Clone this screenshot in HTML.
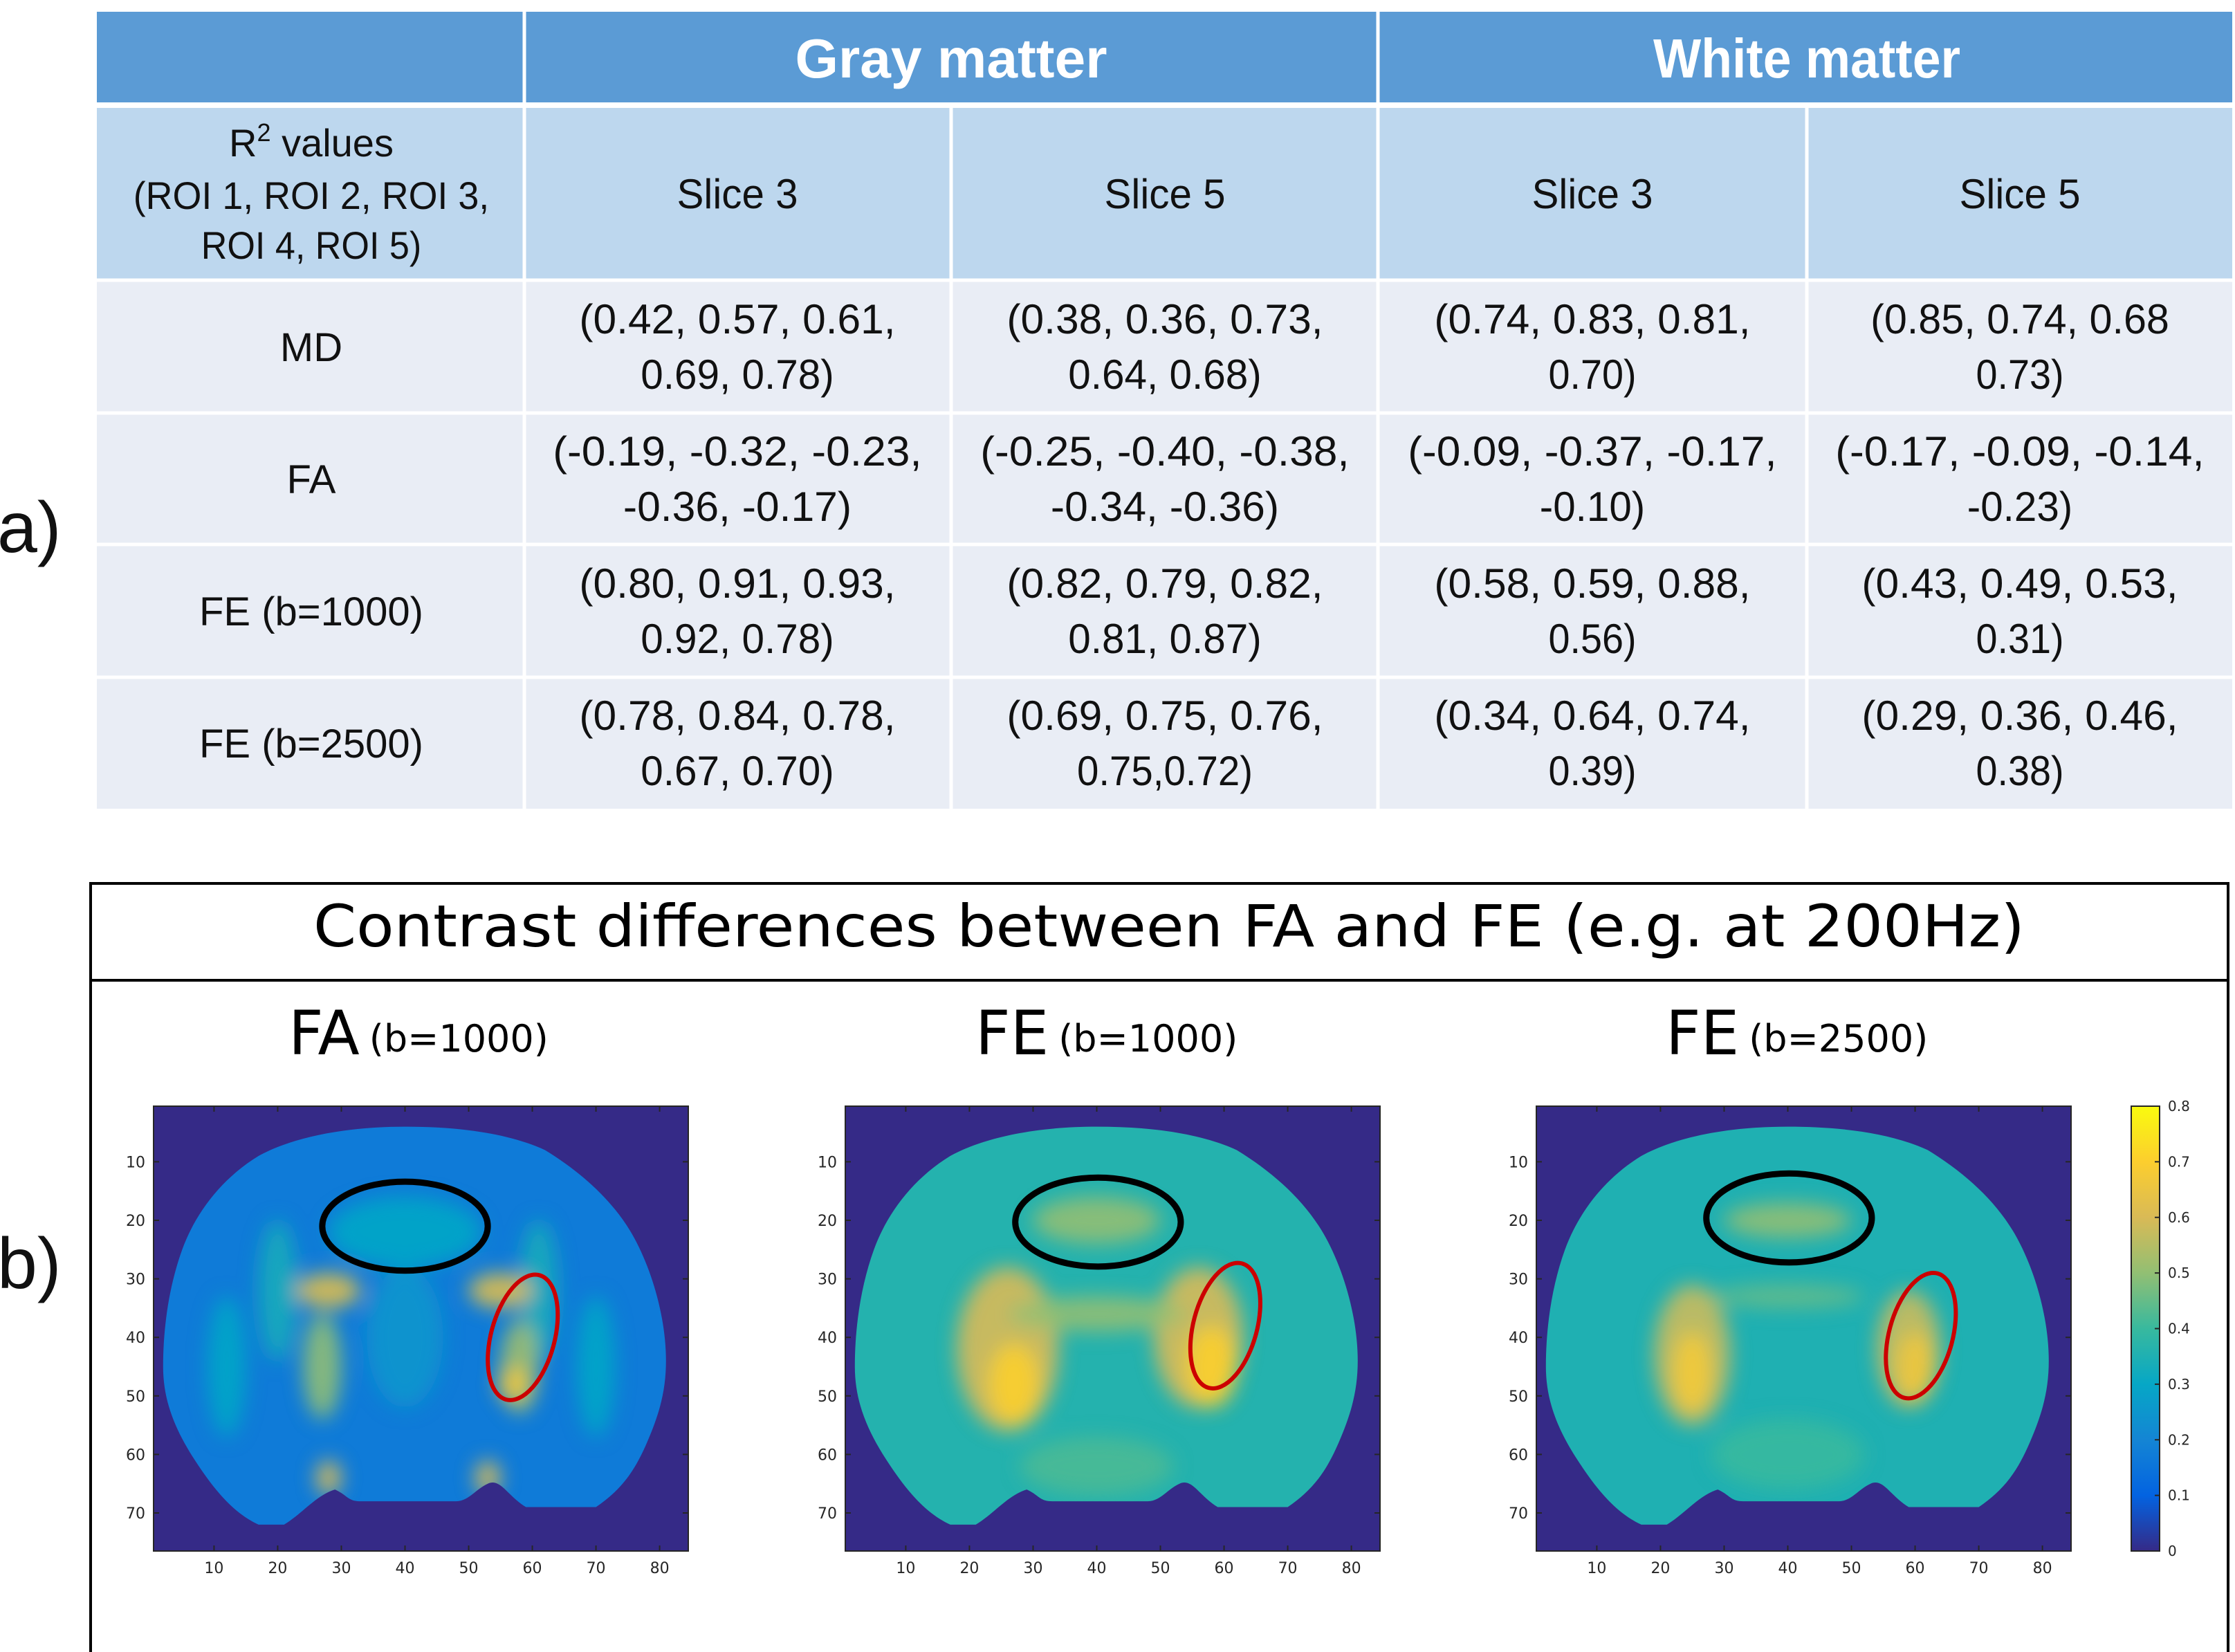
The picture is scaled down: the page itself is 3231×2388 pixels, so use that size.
<!DOCTYPE html>
<html><head><meta charset="utf-8"><style>
html,body{margin:0;padding:0;background:#fff;}
svg{display:block;}
.t{font-family:"Liberation Sans",sans-serif;fill:#111;}
.d{font-family:"DejaVu Sans","Liberation Sans",sans-serif;}
</style></head><body>
<svg id="root" width="3231" height="2388" viewBox="0 0 3231 2388" xmlns="http://www.w3.org/2000/svg">
<defs>
<filter id="blur" x="-50%" y="-50%" width="200%" height="200%"><feGaussianBlur stdDeviation="14"/></filter>
<linearGradient id="parula" x1="0" y1="1" x2="0" y2="0">
<stop offset="0" stop-color="#352a87"/><stop offset="0.125" stop-color="#0363e1"/><stop offset="0.25" stop-color="#1485d4"/><stop offset="0.375" stop-color="#06a7c6"/><stop offset="0.5" stop-color="#38b99e"/><stop offset="0.625" stop-color="#92bf73"/><stop offset="0.75" stop-color="#d9ba56"/><stop offset="0.875" stop-color="#fcce2e"/><stop offset="1" stop-color="#f9fb0e"/>
</linearGradient>
</defs>
<g id="table">
<rect x="140" y="17" width="3087" height="132" fill="#5b9bd5"/>
<rect x="140" y="155" width="3087" height="250" fill="#bdd7ee"/>
<rect x="140" y="405" width="3087" height="764" fill="#e9edf5"/>
<g stroke="#fff" stroke-width="5">
<line x1="758" y1="17" x2="758" y2="1169"/><line x1="1992" y1="17" x2="1992" y2="1169"/>
<line x1="1375" y1="155" x2="1375" y2="1169"/><line x1="2612" y1="155" x2="2612" y2="1169"/>
<line x1="140" y1="152" x2="3227" y2="152" stroke-width="8"/>
<line x1="140" y1="405" x2="3227" y2="405"/><line x1="140" y1="597" x2="3227" y2="597"/>
<line x1="140" y1="787" x2="3227" y2="787"/><line x1="140" y1="979" x2="3227" y2="979"/>
</g>
<text class="t fit" x="1375" y="112" text-anchor="middle" font-size="80" font-weight="bold" style="fill:#fff" data-k="41">Gray matter</text>
<text class="t fit" x="2612" y="112" text-anchor="middle" font-size="80" font-weight="bold" style="fill:#fff" data-k="37">White matter</text>
<text class="t" x="450" y="226" text-anchor="middle" font-size="56"><tspan>R</tspan><tspan font-size="36" dy="-22">2</tspan><tspan dy="22"> values</tspan></text>
<text class="t fit" x="450" y="302" text-anchor="middle" font-size="56" data-k="24.5">(ROI 1, ROI 2, ROI 3,</text>
<text class="t fit" x="450" y="374" text-anchor="middle" font-size="56" data-k="24.5">ROI 4, ROI 5)</text>
<text class="t fit" x="1066" y="301" text-anchor="middle" font-size="60" data-k="25">Slice 3</text>
<text class="t fit" x="1684" y="301" text-anchor="middle" font-size="60" data-k="25">Slice 5</text>
<text class="t fit" x="2302" y="301" text-anchor="middle" font-size="60" data-k="25">Slice 3</text>
<text class="t fit" x="2920" y="301" text-anchor="middle" font-size="60" data-k="25">Slice 5</text>
<g id="rows"></g>
</g>
<text class="t" x="-4" y="798" font-size="104">a)</text>
<text class="t" x="-4" y="1862" font-size="104">b)</text>
<rect x="131" y="1277" width="3090" height="1115" fill="none" stroke="#000" stroke-width="4"/>
<line x1="131" y1="1417" x2="3221" y2="1417" stroke="#000" stroke-width="4"/>
<text class="d" x="1690" y="1368" text-anchor="middle" font-size="84" textLength="2474" lengthAdjust="spacingAndGlyphs">Contrast differences between FA and FE (e.g. at 200Hz)</text>
<g id="maps"></g>
<g id="cbar"></g>
</svg>
<script>
document.querySelectorAll('.fit').forEach(function(t){var k=+t.getAttribute('data-k');t.setAttribute('textLength',t.textContent.length*k);t.setAttribute('lengthAdjust','spacingAndGlyphs');});
var NS='http://www.w3.org/2000/svg';
function mk(tag,attrs,parent){var e=document.createElementNS(NS,tag);for(var k in attrs)e.setAttribute(k,attrs[k]);parent.appendChild(e);return e;}
var rowLabels=['MD','FA','FE (b=1000)','FE (b=2500)'];
var cellLine1=[['(0.42, 0.57, 0.61,','(0.38, 0.36, 0.73,','(0.74, 0.83, 0.81,','(0.85, 0.74, 0.68'],
['(-0.19, -0.32, -0.23,','(-0.25, -0.40, -0.38,','(-0.09, -0.37, -0.17,','(-0.17, -0.09, -0.14,'],
['(0.80, 0.91, 0.93,','(0.82, 0.79, 0.82,','(0.58, 0.59, 0.88,','(0.43, 0.49, 0.53,'],
['(0.78, 0.84, 0.78,','(0.69, 0.75, 0.76,','(0.34, 0.64, 0.74,','(0.29, 0.36, 0.46,']];
var cellLine2=[['0.69, 0.78)','0.64, 0.68)','0.70)','0.73)'],['-0.36, -0.17)','-0.34, -0.36)','-0.10)','-0.23)'],
['0.92, 0.78)','0.81, 0.87)','0.56)','0.31)'],['0.67, 0.70)','0.75,0.72)','0.39)','0.38)']];
var rowCenters=[501,692,883,1074], colCenters=[1066,1684,2302,2920];
var rowsG=document.getElementById('rows');
rowLabels.forEach(function(l,i){
 var t=mk('text',{class:'t',x:450,y:rowCenters[i]+21,'text-anchor':'middle','font-size':58},rowsG);t.textContent=l;
 
 
 colCenters.forEach(function(cx,j){
  [cellLine1[i][j],cellLine2[i][j]].forEach(function(s,n){
   var c=mk('text',{class:'t',x:cx,y:rowCenters[i]-19+n*80,'text-anchor':'middle','font-size':60},rowsG);c.textContent=s;
   c.setAttribute('textLength',s.length*25.4);c.setAttribute('lengthAdjust','spacingAndGlyphs');
   
   
  });
 });
});
var xTicks=[10,20,30,40,50,60,70,80], yTicks=[10,20,30,40,50,60,70];
var cbarTicks=[0,0.1,0.2,0.3,0.4,0.5,0.6,0.7,0.8];
var mapTitles=['FA','FE','FE'], mapSubs=['(b=1000)','(b=1000)','(b=2500)'];
var mapBase=[0.17,0.36,0.35];
var blobs=[
 [[40,22,12,6,0.3],[20,32,3,12,0.33],[61,32,3,12,0.33],[28,32,5,3,0.62],[55,32,5,3,0.62],[27,45,3,9,0.5],[58,45,3,8,0.52],[57,48,2.5,3,0.66],[28,64,2,3,0.6],[53,64,2,3,0.6],[12,45,3,12,0.3],[70,45,3,12,0.3],[40,40,6,12,0.25]],
 [[40,20,10,4,0.5],[26,42,8,14,0.6],[56,40,7,12,0.6],[40,36,14,3,0.5],[27,48,4,7,0.7],[58,45,4,7,0.7],[40,62,12,5,0.42]],
 [[40,20,10,3,0.5],[25,43,6,12,0.58],[59,42,5,10,0.58],[25,46,3,7,0.68],[60,45,3,6,0.66],[40,33,12,2,0.45],[40,60,12,6,0.4]]];
var blackEll=[[40,21,13,7.6],[40.2,20.3,13,7.6],[40.2,19.6,13,7.6]];
var redEll=[[58.5,40,5,11],[60.2,38,5,11],[60.9,39.7,5,11]];
var panelX=[222,1222,2221], boxY=1599, boxW=773, boxH=643, xMin=0.5,xMax=84.5,yMin=0.5,yMax=76.5;
var stops=[[0,'#352a87'],[0.1,'#0363e1'],[0.2,'#1485d4'],[0.3,'#06a7c6'],[0.4,'#38b99e'],[0.5,'#92bf73'],[0.6,'#d9ba56'],[0.7,'#fcce2e'],[0.8,'#f9fb0e']];
function col(v){for(var i=1;i<stops.length;i++){if(v<=stops[i][0]){var a=stops[i-1],b=stops[i],f=(v-a[0])/(b[0]-a[0]);var ca=parseInt(a[1].slice(1),16),cb=parseInt(b[1].slice(1),16);var r=Math.round(((ca>>16)&255)*(1-f)+((cb>>16)&255)*f),g=Math.round(((ca>>8)&255)*(1-f)+((cb>>8)&255)*f),bb=Math.round((ca&255)*(1-f)+(cb&255)*f);return 'rgb('+r+','+g+','+bb+')';}}return stops[stops.length-1][1];}
var brainPath='M 40 4 C 30 4 22 6 17 9 C 11 13 7 19 5 25 C 3 31 2 38 2 45 C 2 51 4 56 7 61 C 10 66 13 70 17 72 L 21 72 C 24 70 26 67 29 66 C 31 67 31 68 33 68 L 48 68 C 50 68 51 66 53 65 C 55 64 56 67 59 69 L 70 69 C 74 66 76 63 78 58 C 80 53 81 49 81 44 C 81 37 79 29 76 23 C 73 17 68 12 62 8 C 56 5 48 4 40 4 Z';
var maps=document.getElementById('maps');
panelX.forEach(function(px,p){
 var sx=boxW/(xMax-xMin), sy=boxH/(yMax-yMin);
 function X(v){return px+(v-xMin)*sx;} function Y(v){return boxY+(v-yMin)*sy;}
 var g=mk('g',{},maps);
 
 
 var tt=mk('text',{class:'d',x:[417,1410,2408][p],y:1524,'font-size':88},g);
 var s1=mk('tspan',{},tt);s1.textContent=mapTitles[p];
 var s2=mk('tspan',{'font-size':54,dx:14,dy:-4},tt);s2.textContent=mapSubs[p];
 
 
 var bg=mk('rect',{x:px,y:boxY,width:boxW,height:boxH,fill:'#352a87'},g);
 
 
 var clipId='clip'+p;
 var cp=mk('clipPath',{id:clipId},g);
 mk('path',{d:brainPath,transform:'translate('+X(0)+','+Y(0)+') scale('+sx+','+sy+')'},cp);
 var inner=mk('g',{'clip-path':'url(#'+clipId+')'},g);
 var br=mk('rect',{x:px,y:boxY,width:boxW,height:boxH,fill:col(mapBase[p])},inner);
 
 
 var bl=mk('g',{filter:'url(#blur)'},inner);
 blobs[p].forEach(function(b){
  var e=mk('ellipse',{cx:X(b[0]),cy:Y(b[1]),rx:b[2]*sx,ry:b[3]*sy,fill:col(b[4]),opacity:0.9},bl);
  
  
 });
 mk('rect',{x:px,y:boxY,width:boxW,height:boxH,fill:'none',stroke:'#262626','stroke-width':2},g);
 xTicks.forEach(function(t){mk('line',{x1:X(t),x2:X(t),y1:boxY,y2:boxY+8,stroke:'#262626','stroke-width':2},g);mk('line',{x1:X(t),x2:X(t),y1:boxY+boxH,y2:boxY+boxH-8,stroke:'#262626','stroke-width':2},g);
  var l=mk('text',{class:'d',x:X(t),y:boxY+boxH+32,'text-anchor':'middle','font-size':22,fill:'#262626'},g);l.textContent=t;
  
  });
 yTicks.forEach(function(t){mk('line',{x1:px,x2:px+8,y1:Y(t),y2:Y(t),stroke:'#262626','stroke-width':2},g);mk('line',{x1:px+boxW,x2:px+boxW-8,y1:Y(t),y2:Y(t),stroke:'#262626','stroke-width':2},g);
  var l=mk('text',{class:'d',x:px-12,y:Y(t)+8,'text-anchor':'end','font-size':22,fill:'#262626'},g);l.textContent=t;
  
  });
 var be=blackEll[p];
 var k=mk('ellipse',{cx:X(be[0]),cy:Y(be[1]),rx:be[2]*sx,ry:be[3]*sy,fill:'none',stroke:'#000','stroke-width':9},g);
 
 
 var re=redEll[p];
 var r=mk('ellipse',{cx:X(re[0]),cy:Y(re[1]),rx:re[2]*sx,ry:re[3]*sy,fill:'none',stroke:'#cc0000','stroke-width':6,transform:'rotate(15 '+X(re[0])+' '+Y(re[1])+')'},g);
 
 
});
var cb=document.getElementById('cbar'), cbX=3081,cbW=41,cbY=1599,cbH=643,cbMax=0.8;
mk('rect',{x:cbX,y:cbY,width:cbW,height:cbH,fill:'url(#parula)',stroke:'#262626','stroke-width':2},cb);
cbarTicks.forEach(function(t){var y=cbY+cbH-t/cbMax*cbH;mk('line',{x1:cbX+cbW-7,x2:cbX+cbW,y1:y,y2:y,stroke:'#262626','stroke-width':2},cb);
 var l=mk('text',{class:'d',x:cbX+cbW+12,y:y+7,'font-size':20,fill:'#262626'},cb);l.textContent=t;
 
 });
</script>
</body></html>
